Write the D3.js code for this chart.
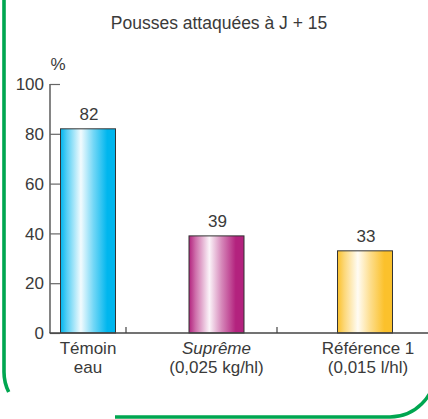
<!DOCTYPE html>
<html>
<head>
<meta charset="utf-8">
<script src="https://cdn.jsdelivr.net/npm/d3@7"></script>
<style>
  html, body { margin: 0; padding: 0; background: #fff; }
  svg { display: block; }
  text { font-family: "Liberation Sans", Arial, sans-serif; fill: #3a3a3a; }
</style>
</head>
<body>
<svg id="chart" width="428" height="419"></svg>
<script>
// ---- data ----
const title = "Pousses attaquées à J + 15";
const unitLabel = "%";
const categories = ["Témoin", "Suprême", "Référence 1"];
const subLabels = ["eau", "(0,025 kg/hl)", "(0,015 l/hl)"];
const italicCat = [false, true, false];
const values = [82, 39, 33];
const yTicks = [0, 20, 40, 60, 80, 100];
const barColors = ["#00b6ee", "#b3227e", "#fbc12c"];

// ---- layout ----
const W = 428, H = 419;
const svg = d3.select("#chart");

// frame (green rounded border, partially open)
const green = "#00a650";
svg.append("path")
  .attr("d", "M4,-5 V372 A45,45 0 0 0 8.7,392")
  .attr("fill", "none").attr("stroke", green).attr("stroke-width", 3.6);
svg.append("path")
  .attr("d", "M115,417 H390 A45,45 0 0 0 435,372 V-5")
  .attr("fill", "none").attr("stroke", green).attr("stroke-width", 3.4);

const y = d3.scaleLinear().domain([0, 100]).range([333, 84]);
const x = d3.scaleOrdinal().domain(categories).range([88, 216.5, 365]);
const barW = 55;

// gradients
const defs = svg.append("defs");
barColors.forEach((c, i) => {
  const g = defs.append("linearGradient").attr("id", "g" + i)
    .attr("x1", "0%").attr("x2", "100%").attr("y1", "0%").attr("y2", "0%");
  g.append("stop").attr("offset", "0%").attr("stop-color", c);
  g.append("stop").attr("offset", "12%").attr("stop-color", d3.interpolateRgb(c, "#fff")(0.35));
  g.append("stop").attr("offset", "37%").attr("stop-color", d3.interpolateRgb(c, "#fff")(0.95));
  g.append("stop").attr("offset", "60%").attr("stop-color", d3.interpolateRgb(c, "#fff")(0.45));
  g.append("stop").attr("offset", "85%").attr("stop-color", c);
  g.append("stop").attr("offset", "100%").attr("stop-color", c);
});

// title
svg.append("text").attr("x", 219).attr("y", 29).attr("text-anchor", "middle")
  .style("font-size", "17.5px").text(title);

// unit
svg.append("text").attr("x", 58).attr("y", 70).attr("text-anchor", "middle")
  .style("font-size", "17px").text(unitLabel);

// y axis
const yAxis = d3.axisRight(y).tickValues(yTicks).tickSize(10).tickFormat("");
const gy = svg.append("g").attr("transform", "translate(50,0)").call(yAxis);
gy.select(".domain").attr("stroke", "#333").attr("stroke-width", 1.2).attr("d", "M0,84V333");
gy.selectAll(".tick line").attr("stroke", "#666").attr("stroke-width", 1.2);
svg.selectAll(".ylab").data(yTicks).join("text").attr("class", "ylab")
  .attr("x", 44).attr("y", d => y(d)).attr("dy", "0.36em")
  .attr("text-anchor", "end").style("font-size", "17px").text(d => d);

// bars
svg.selectAll(".bar").data(values).join("rect").attr("class", "bar")
  .attr("x", (d, i) => x(categories[i]) - barW / 2)
  .attr("y", d => y(d))
  .attr("width", barW)
  .attr("height", d => y(0) - y(d))
  .attr("fill", (d, i) => `url(#g${i})`)
  .attr("stroke", "#333").attr("stroke-width", 1);

// value labels
svg.selectAll(".val").data(values).join("text").attr("class", "val")
  .attr("x", (d, i) => x(categories[i]) + 1)
  .attr("y", d => y(d) - 9)
  .attr("text-anchor", "middle").style("font-size", "17px").text(d => d);

// x axis
svg.append("line").attr("x1", 49.5).attr("x2", W).attr("y1", 333).attr("y2", 333)
  .attr("stroke", "#444").attr("stroke-width", 1.4);
[126, 277].forEach(px => {
  svg.append("line").attr("x1", px).attr("x2", px).attr("y1", 333).attr("y2", 327)
    .attr("stroke", "#444").attr("stroke-width", 1.2);
});

// category labels
categories.forEach((c, i) => {
  const cx = x(c) + (i === 2 ? 3 : 0);
  svg.append("text").attr("x", cx).attr("y", 354).attr("text-anchor", "middle")
    .style("font-size", "17px").style("font-style", italicCat[i] ? "italic" : "normal").text(c);
  svg.append("text").attr("x", cx).attr("y", 373).attr("text-anchor", "middle")
    .style("font-size", "17px").text(subLabels[i]);
});
</script>
</body>
</html>
